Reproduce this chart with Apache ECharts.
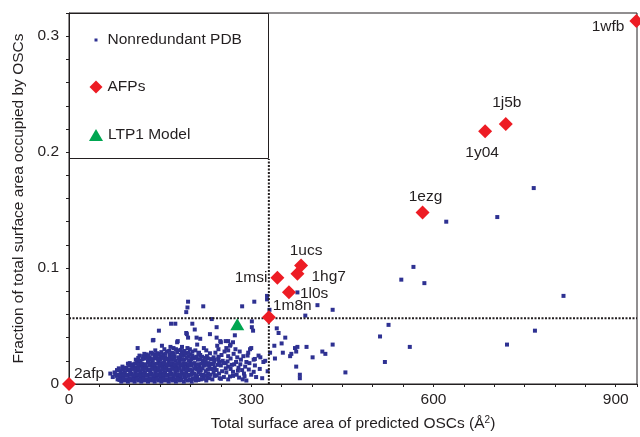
<!DOCTYPE html>
<html>
<head>
<meta charset="utf-8">
<script src="https://cdn.jsdelivr.net/npm/echarts@6.0.0/dist/echarts.min.js"></script>
<style>
html,body{margin:0;padding:0;background:#fff;}
#chart{width:640px;height:437px;}
</style>
</head>
<body>
<div id="chart"></div>
<script>
// 非冗余 PDB 点
var pdbPoints = [
	[80,.004],[86,.002],[92,.003],[97,.002],[103,.003],[108,.002],[114,.003],[119,.002],[125,.003],[130,.002],[136,.003],[141,.002],[147,.003],[152,.002],[158,.003],[164,.002],[170,.003],[176,.002],[182,.003],[189,.002],[195,.003],[202,.002],[209,.003],[217,.004],[226,.003],[236,.004],[248,.005],[262,.004],
	[72,.006],[78,.007],[84,.005],[89,.006],[95,.007],[100,.005],[106,.006],[111,.007],[117,.005],[122,.006],[128,.007],[133,.005],[139,.006],[144,.007],[150,.005],[155,.006],[161,.007],[166,.005],[172,.006],[178,.007],[184,.005],[190,.006],[197,.007],[204,.005],[211,.006],[219,.007],[228,.006],[240,.007],[255,.006],[270,.007],
	[68,.009],[75,.010],[81,.008],[87,.009],[92,.010],[98,.008],[103,.009],[109,.010],[114,.008],[120,.009],[125,.010],[131,.008],[136,.009],[142,.010],[147,.008],[153,.009],[158,.010],[164,.008],[169,.009],[175,.010],[181,.008],[187,.009],[193,.010],[199,.008],[206,.009],[213,.010],[221,.008],[229,.009],[238,.010],[247,.009],[259,.010],[276,.008],
	[79,.012],[85,.011],[90,.013],[96,.012],[101,.011],[107,.013],[112,.012],[118,.011],[123,.013],[129,.012],[134,.011],[140,.013],[145,.012],[151,.011],[156,.013],[162,.012],[167,.011],[173,.013],[179,.012],[185,.011],[191,.013],[197,.012],[203,.011],[210,.013],[217,.012],[225,.011],[233,.013],[243,.012],[252,.011],[266,.013],[285,.012],
	[88,.015],[94,.014],[99,.016],[105,.015],[110,.014],[116,.016],[121,.015],[127,.014],[132,.016],[138,.015],[143,.014],[149,.016],[154,.015],[160,.014],[165,.016],[171,.015],[177,.014],[183,.016],[189,.015],[195,.014],[201,.016],[208,.015],[215,.014],[222,.016],[231,.015],[240,.014],[250,.016],[262,.015],[279,.014],
	[100,.018],[106,.017],[112,.019],[118,.018],[124,.017],[130,.019],[136,.018],[141,.017],[147,.019],[153,.018],[158,.017],[164,.019],[170,.018],[176,.017],[182,.019],[188,.018],[194,.017],[200,.019],[207,.018],[214,.017],[221,.019],[229,.018],[237,.017],[247,.019],[258,.018],[272,.017],[292,.019],
	[110,.021],[117,.020],[124,.022],[131,.021],[138,.020],[144,.022],[150,.021],[157,.020],[163,.022],[169,.021],[176,.020],[183,.022],[190,.021],[197,.020],[204,.022],[212,.021],[220,.020],[229,.022],[240,.021],[253,.020],[266,.022],[283,.021],
	[122,.024],[133,.023],[141,.025],[150,.024],[158,.023],[166,.025],[174,.024],[181,.023],[189,.025],[197,.024],[206,.023],[216,.025],[227,.024],[238,.023],[251,.025],[262,.024],[277,.023],
	[135,.027],[148,.026],[161,.028],[170,.027],[180,.029],[192,.026],[203,.028],[214,.027],[226,.029],[241,.027],[256,.028],[271,.026],
	[153,.033],[172,.031],[186,.032],[199,.030],[211,.034],[222,.031],[244,.033],[259,.031],
	// 核心区补点
	[83,.0035],[89,.0045],[95,.0035],[100,.0045],[106,.0035],[111,.0045],[117,.0035],[122,.0045],[128,.0035],[133,.0045],[139,.0035],[144,.0045],[150,.0035],[155,.0045],[161,.0035],[167,.0045],[173,.0035],[179,.0045],[185,.0035],[192,.0045],[199,.0035],[206,.0045],[213,.0035],[222,.0045],[231,.005],
	[76,.0085],[84,.0075],[90,.0085],[95,.0075],[101,.0085],[106,.0075],[112,.0085],[117,.0075],[123,.0085],[128,.0075],[134,.0085],[139,.0075],[145,.0085],[150,.0075],[156,.0085],[161,.0075],[167,.0085],[172,.0075],[178,.0085],[184,.0075],[190,.0085],[196,.0075],[202,.0085],[209,.0075],[216,.0085],[224,.0075],[233,.008],[243,.0075],
	[82,.0135],[88,.0125],[93,.0135],[99,.0125],[104,.0135],[110,.0125],[115,.0135],[121,.0125],[126,.0135],[132,.0125],[137,.0135],[143,.0125],[148,.0135],[154,.0125],[159,.0135],[165,.0125],[170,.0135],[176,.0125],[182,.0135],[188,.0125],[194,.0135],[200,.0125],[206,.0135],[213,.0125],[220,.0135],[228,.0125],[237,.013],
	[97,.0175],[103,.0165],[109,.0175],[114,.0165],[120,.0175],[126,.0165],[133,.0175],[139,.0165],[144,.0175],[150,.0165],[156,.0175],[161,.0165],[167,.0175],[173,.0165],[179,.0175],[185,.0165],[191,.0175],[197,.0165],[204,.0175],[211,.0165],[218,.0175],[226,.0165],[234,.0175],[244,.0165],
	[114,.0225],[121,.0215],[128,.0225],[135,.0215],[141,.0225],[147,.0215],[154,.0225],[160,.0215],[166,.0225],[173,.0215],[180,.0225],[187,.0215],[194,.0225],[201,.0215],[208,.0225],[216,.0215],[224,.0225],[234,.0215],
	[128,.0255],[145,.0265],[155,.0255],[170,.0235],[186,.0275],[200,.0255],[210,.0235],[232,.0265],[246,.0235],
	[116,.0245],[124,.026],[131,.0245],[138,.026],[144,.0245],[152,.0275],[159,.026],[165,.0285],[172,.0265],[178,.0275],[184,.025],[190,.0285],[196,.027],[203,.0245],[208,.029],[213,.026],[219,.0235],
	[142,.029],[157,.030],[176,.030],[195,.031],[167,.032],[184,.0295],
	// 右侧半密集区
	[225,.0195],[232,.0175],[239,.0195],[246,.0215],[254,.018],[261,.0195],[268,.0165],[275,.019],[282,.017],[290,.015],[297,.018],[304,.021],[258,.0135],[270,.0105],[278,.0115],[288,.009],[296,.0125],[304,.0105],[250,.0045],[265,.0065],[280,.0055],[292,.003],[308,.006],
	[243,.040],[250,.036],[258,.037],[266,.034],[274,.030],[281,.028],[246,.030],[262,.029],[287,.024],[295,.027],[300,.031],[306,.016],[314,.013],[320,.019],[327,.011],[286,.004],[300,.008],[318,.005],[294,.0245],[312,.0245],[306,.0216],[289,.0066],
	[113,.031],[139,.038],[148,.046],[179,.037],[193,.044],[196,.040],[216,.039],[168,.052],[175,.052],[203,.052],[193,.062],[195,.066],[196,.071],[221,.067],[235,.056],[207,.047],[243,.049],[249,.037],[262,.037],[273,.042],[285,.067],[301,.054],[301,.049],[305,.071],[326,.073],[326,.076],[330,.064],
	[138,.0376],[178,.036],[194,.043],[210,.040],[232,.043],[265,.033],[270,.036],[298,.030],[315,.023],[323,.020],[303,.046],
	[342,.048],[345,.044],[356,.040],[350,.035],[338,.033],[331,.027],[352,.027],[364,.024],[366,.026],[372,.031],[374,.028],[376,.032],[391,.032],[401,.023],[417,.028],[422,.026],[434,.034],[339,.022],[374,.015],[380,.008],[455,.010],[520,.019],[512,.041],[526,.051],[561,.032],[721,.034],[767,.046],[389,.059],[409,.068],[434,.064],[376,.079],[547,.090],[567,.101],[585,.087],[814,.076],[621,.140],[705,.144],[765,.169],[380,.005]
];
// 抗冻蛋白
var afpNames = ['2afp','1m8n','1msi','1l0s','1hg7','1ucs','1ezg','1y04','1j5b','1wfb'];
var afpPoints = [[0,0],[329,.0575],[343,.0917],[362,.0792],[376,.095],[382,.1023],[582,.148],[685,.218],[719,.2242],[934,.313]];
var ltpPoint = [[277,.0515]];
// 虚线
var vLine = [[329,0],[329,.194]];
var hLine = [[0,.0567],[935,.0567]];
var xLabels = [0,300,600,900];
var yLabels = [0,0.1,0.2,0.3];

var font = 'Liberation Sans, Arial, Helvetica, sans-serif';
var ink = '#231f20';
var labelPos = {
	'2afp':{position:'right',distance:-2,offset:[0,-10]},
	'1m8n':{position:'right',distance:-3,offset:[0,-12]},
	'1msi':{position:'left',distance:3,offset:[0,0]},
	'1l0s':{position:'right',distance:4,offset:[0,2]},
	'1hg7':{position:'right',distance:7,offset:[0,3]},
	'1ucs':{position:'top',distance:0,offset:[5,0]},
	'1ezg':{position:'top',distance:1,offset:[3,0]},
	'1y04':{position:'bottom',distance:6,offset:[-3,0]},
	'1j5b':{position:'top',distance:6,offset:[1,0]},
	'1wfb':{position:'left',distance:5,offset:[0,6]}
};

function isLabel(v,list){
	for(var i=0;i<list.length;i++){
		if(Math.abs(v-list[i])<1e-6) return true;
	}
	return false;
}

function init(){
	var myChart = echarts.init(document.getElementById('chart'));
	var afpData = afpPoints.map(function(p,i){
		var lp = labelPos[afpNames[i]];
		return {value:p,name:afpNames[i],label:{show:true,formatter:'{b}',position:lp.position,distance:lp.distance,offset:lp.offset}};
	});
	var xBase = {type:'value',min:0,max:935,interval:50,splitLine:{show:false}};
	var yBase = {type:'value',min:0,max:0.32,interval:0.02,splitLine:{show:false}};
	var legendText = {fontSize:15.5,color:ink,fontFamily:font};
	var option = {
		animation:false,
		textStyle:{fontFamily:font},
		grid:{left:69,right:3,top:13,bottom:50,show:true,borderColor:ink,borderWidth:1},
		xAxis:[
			echarts.util.merge({
				name:'Total surface area of predicted OSCs (Å{sup|2})',
				nameLocation:'middle',nameGap:31,
				nameTextStyle:{fontSize:15.5,color:ink,fontFamily:font,rich:{sup:{fontSize:10,verticalAlign:'top',padding:[0,0,8,0],fontFamily:font,color:ink}}},
				axisLine:{lineStyle:{color:ink,width:1}},
				axisTick:{length:3,lineStyle:{color:ink}},
				axisLabel:{margin:8,fontSize:15.5,color:ink,fontFamily:font,formatter:function(v){return isLabel(v,xLabels)?String(v):'';}}
			},xBase,true),
			echarts.util.merge({
				axisLine:{show:false},
				axisTick:{inside:true,length:3,lineStyle:{color:ink}},
				axisLabel:{show:false}
			},xBase,true)
		],
		yAxis:[
			echarts.util.merge({
				name:'Fraction of total surface area occupied by OSCs',
				nameLocation:'middle',nameGap:42,
				nameTextStyle:{fontSize:15.5,color:ink,fontFamily:font},
				axisLine:{lineStyle:{color:ink,width:1}},
				axisTick:{length:3,lineStyle:{color:ink}},
				axisLabel:{margin:10,fontSize:15.5,color:ink,fontFamily:font,formatter:function(v){
					if(!isLabel(v,yLabels)) return '';
					return v<1e-9?'0':v.toFixed(1);
				}}
			},yBase,true),
			echarts.util.merge({
				axisLine:{show:false},
				axisTick:{inside:true,length:3,lineStyle:{color:ink}},
				axisLabel:{show:false}
			},yBase,true)
		],
		legend:[
			{data:['Nonredundant PDB'],left:89.5,top:32,padding:0,itemWidth:13,itemHeight:13,icon:'path://M0,0M13,13M5,5h3v3h-3z',selectedMode:false,textStyle:legendText},
			{data:['AFPs'],left:89.5,top:79,padding:0,itemWidth:13,itemHeight:13,selectedMode:false,textStyle:legendText},
			{data:['LTP1 Model'],left:89,top:127,padding:0,itemWidth:14,itemHeight:12,selectedMode:false,textStyle:legendText}
		],
		graphic:[
			{type:'rect',shape:{x:69.5,y:13.5,width:199,height:145},style:{fill:'none',stroke:ink,lineWidth:1},z:1,silent:true}
		],
		series:[
			{
				name:'Nonredundant PDB',type:'scatter',symbol:'rect',symbolSize:4,
				itemStyle:{color:'#2e3192',opacity:1},data:pdbPoints,z:2
			},
			{
				type:'line',data:vLine,symbol:'none',lineStyle:{color:ink,width:2,type:[2,1.5]},z:3,silent:true
			},
			{
				type:'line',data:hLine,symbol:'none',lineStyle:{color:ink,width:2,type:[2,1.5]},z:3,silent:true
			},
			{
				name:'LTP1 Model',type:'scatter',symbol:'triangle',symbolSize:[14,12],
				itemStyle:{color:'#00a651',opacity:1},data:ltpPoint,z:4
			},
			{
				name:'AFPs',type:'scatter',symbol:'diamond',symbolSize:14,clip:false,
				itemStyle:{color:'#ed1c24',opacity:1},
				label:{color:ink,fontSize:15.5,fontFamily:font},
				data:afpData,z:4
			}
		]
	};
	myChart.setOption(option);
}
init();
</script>
</body>
</html>
